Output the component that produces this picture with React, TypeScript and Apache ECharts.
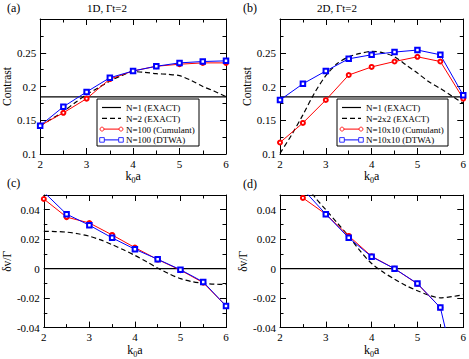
import React, { useEffect, useRef } from 'react';
import * as echarts from 'echarts';

// ---- data ----
const kx = [2, 2.5, 3, 3.5, 4, 4.5, 5, 5.5, 6];
const kFine = [2, 2.25, 2.5, 2.75, 3, 3.25, 3.5, 3.75, 4, 4.25, 4.5, 4.75, 5, 5.25, 5.5, 5.75, 6];

const singleAtom = 0.1845;

const aPair = [0.142, 0.152, 0.163, 0.176, 0.188, 0.198, 0.208, 0.216, 0.222, 0.221, 0.219, 0.218, 0.216, 0.209, 0.2, 0.193, 0.185];
const aCum = [0.142, 0.161, 0.182, 0.211, 0.223, 0.23, 0.233, 0.235, 0.235];
const aDtwa = [0.142, 0.17, 0.192, 0.213, 0.223, 0.23, 0.235, 0.237, 0.238];

const bPair = [0.101, 0.128, 0.158, 0.19, 0.216, 0.234, 0.244, 0.249, 0.252, 0.25, 0.244, 0.232, 0.22, 0.207, 0.197, 0.186, 0.175];
const bCum = [0.117, 0.146, 0.18, 0.217, 0.229, 0.237, 0.244, 0.237, 0.182];
const bDtwa = [0.18, 0.204, 0.223, 0.241, 0.247, 0.251, 0.254, 0.247, 0.187];

const cPair = [0.0253, 0.0252, 0.0248, 0.0237, 0.022, 0.0195, 0.0163, 0.0128, 0.009, 0.0048, 0.0004, -0.0035, -0.0068, -0.0088, -0.0099, -0.0105, -0.0107];
const cCum = [0.0473, 0.035, 0.031, 0.0229, 0.0143, 0.0062, -0.001, -0.0095, -0.0253];
const cDtwa = [0.052, 0.037, 0.0295, 0.0209, 0.0132, 0.0064, -0.0007, -0.009, -0.0253];

const dPair = [null, null, 0.06, 0.049, 0.04, 0.031, 0.022, 0.012, 0.0035, -0.0023, -0.0072, -0.0115, -0.015, -0.018, -0.0198, -0.019, -0.0178];
const dCum = [null, 0.048, 0.037, 0.0222, 0.0084, 0, -0.0103, -0.0264, null];
const dDtwa = [null, 0.054, 0.037, 0.0209, 0.0081, 0, -0.0101, -0.0264, -0.092];

const xTicks = { min: 2, max: 6, interval: 1 };
const contrastTicks = { min: 0.1, max: 0.3, interval: 0.05 };
const shiftTicks = { min: -0.04, max: 0.05, interval: 0.02 };

// ---- styling helpers ----
const FONT = 'Liberation Serif';
const RED = '#ff0000';
const BLUE = '#0000ff';

const pairs = (xs: number[], ys: (number | null)[]) =>
  xs.map((x, i) => [x, ys[i]]).filter((p) => p[1] !== null && p[1] !== undefined);

const grids = [
  { left: 39, top: 19, width: 187, height: 135 },
  { left: 280, top: 19, width: 185, height: 135 },
  { left: 39, top: 195, width: 187, height: 136 },
  { left: 280, top: 195, width: 185, height: 136 },
];

const kName = '{t|k}{s|0}{t|a}';
const nameRich = {
  t: { fontFamily: FONT, fontSize: 12, color: '#000' },
  s: { fontFamily: FONT, fontSize: 8, color: '#000', padding: [9, 0, 0, 0] },
};

function baseAxis(gridIndex: number, range: any, position: string, showLabel: boolean, minorSplit: number) {
  return {
    type: 'value',
    gridIndex,
    position,
    min: range.min,
    max: range.max,
    interval: range.interval,
    axisLine: { show: true, onZero: false, lineStyle: { color: '#000', width: 1 } },
    axisTick: { show: true, inside: true, length: 6, lineStyle: { color: '#000', width: 1 } },
    minorTick: { show: true, splitNumber: minorSplit, length: 3.5, lineStyle: { color: '#000', width: 1 } },
    splitLine: { show: false },
    minorSplitLine: { show: false },
    axisLabel: {
      show: showLabel,
      fontFamily: FONT,
      fontSize: 11,
      color: '#000',
      margin: 4,
      formatter: (v: number) => (v > range.max - range.interval / 2 + 1e-9 && (range.max - range.min) % range.interval > 1e-9 ? '' : String(+v.toFixed(4))),
    },
  };
}

const xAxes: any[] = [];
const yAxes: any[] = [];
[0, 1, 2, 3].forEach((g) => {
  xAxes.push({
    ...baseAxis(g, xTicks, 'bottom', true, 2),
    name: kName,
    nameLocation: 'middle',
    nameGap: 13,
    nameTextStyle: { rich: nameRich },
  });
  xAxes.push(baseAxis(g, xTicks, 'top', false, 2));
  const yr = g < 2 ? contrastTicks : shiftTicks;
  yAxes.push({
    ...baseAxis(g, yr, 'left', true, 2),
    name: g < 2 ? 'Contrast' : 'δv/Γ',
    nameLocation: 'middle',
    nameGap: g < 2 ? 23 : 25,
    nameTextStyle: { fontFamily: FONT, fontSize: 11.5, color: '#000' },
  });
  yAxes.push(baseAxis(g, yr, 'right', false, 2));
});

function refLine(g: number, v: number) {
  return {
    type: 'line',
    xAxisIndex: 2 * g,
    yAxisIndex: 2 * g,
    data: [[2, v], [6, v]],
    showSymbol: false,
    symbol: 'none',
    lineStyle: { color: '#000', width: 1.2 },
    silent: true,
  };
}
function dashed(g: number, ys: (number | null)[]) {
  return {
    type: 'line',
    xAxisIndex: 2 * g,
    yAxisIndex: 2 * g,
    data: pairs(kFine, ys),
    symbol: 'none',
    smooth: 0.3,
    lineStyle: { color: '#000', width: 1.2, type: [5, 3] },
    silent: true,
  };
}
function marked(g: number, ys: (number | null)[], color: string, symbol: string, size: number) {
  return {
    type: 'line',
    xAxisIndex: 2 * g,
    yAxisIndex: 2 * g,
    data: pairs(kx, ys),
    symbol,
    symbolSize: size,
    showAllSymbol: true,
    clip: true,
    lineStyle: { color, width: 1 },
    itemStyle: { color, borderColor: color, borderWidth: 0.8 },
    silent: true,
  };
}

const series: any[] = [
  refLine(0, singleAtom),
  dashed(0, aPair),
  marked(0, aCum, RED, 'emptyCircle', 4),
  marked(0, aDtwa, BLUE, 'emptyRect', 4.5),
  refLine(1, singleAtom),
  dashed(1, bPair),
  marked(1, bCum, RED, 'emptyCircle', 4),
  marked(1, bDtwa, BLUE, 'emptyRect', 4.5),
  refLine(2, 0),
  dashed(2, cPair),
  marked(2, cCum, RED, 'emptyCircle', 4),
  marked(2, cDtwa, BLUE, 'emptyRect', 4.5),
  refLine(3, 0),
  dashed(3, dPair),
  marked(3, dCum, RED, 'emptyCircle', 4),
  marked(3, dDtwa, BLUE, 'emptyRect', 4.5),
];

// ---- graphic texts and legends ----
function txt(text: string, x: number, y: number, size: number, align = 'left') {
  return {
    type: 'text',
    x,
    y,
    z: 100,
    style: { text, fontFamily: FONT, fontSize: size, fill: '#000', align, verticalAlign: 'middle' },
  };
}

function legend(bx: number, by: number, bw: number, bh: number, labels: string[]) {
  const els: any[] = [
    { type: 'rect', z: 100, shape: { x: bx, y: by, width: bw, height: bh }, style: { fill: '#fff', stroke: '#000', lineWidth: 1 } },
  ];
  const x0 = bx + 5;
  const x1 = bx + 24;
  const tx = bx + 29;
  labels.forEach((lab, i) => {
    const y = by + 8.5 + i * 10.8;
    const color = i < 2 ? '#000' : i === 2 ? RED : BLUE;
    els.push({
      type: 'line',
      z: 101,
      shape: { x1: x0, y1: y, x2: x1, y2: y },
      style: { stroke: color, lineWidth: i < 2 ? 1.2 : 1, lineDash: i === 1 ? [5, 3] : null },
    });
    if (i === 2) {
      [x0, x1].forEach((cx) =>
        els.push({ type: 'circle', z: 102, shape: { cx, cy: y, r: 2 }, style: { fill: '#fff', stroke: RED, lineWidth: 0.8 } })
      );
    }
    if (i === 3) {
      [x0, x1].forEach((cx) =>
        els.push({ type: 'rect', z: 102, shape: { x: cx - 2.3, y: y - 2.3, width: 4.6, height: 4.6 }, style: { fill: '#fff', stroke: BLUE, lineWidth: 0.8 } })
      );
    }
    els.push(txt(lab, tx, y + 0.5, 9));
  });
  return els;
}

const graphic: any[] = [
  txt('(a)', 7, 8, 12),
  txt('1D, Γt=2', 107, 8, 11, 'center'),
  txt('(b)', 243, 8, 12),
  txt('2D, Γt=2', 337, 8, 11, 'center'),
  txt('(c)', 7, 183, 12),
  txt('(d)', 243, 184, 12),
  ...legend(97, 99, 102, 47, ['N=1 (EXACT)', 'N=2 (EXACT)', 'N=100 (Cumulant)', 'N=100 (DTWA)']),
  ...legend(337, 99, 111, 47, ['N=1 (EXACT)', 'N=2x2 (EXACT)', 'N=10x10 (Cumulant)', 'N=10x10 (DTWA)']),
];

export default function App() {
  const ref = useRef<HTMLDivElement>(null);
  useEffect(() => {
    const chart = echarts.init(ref.current!, null, { renderer: 'svg' });
    chart.setOption({
      animation: false,
      backgroundColor: '#fff',
      textStyle: { fontFamily: FONT },
      grid: grids,
      xAxis: xAxes,
      yAxis: yAxes,
      series,
      graphic,
    });
    return () => chart.dispose();
  }, []);
  return (
    <div
      ref={ref}
      style={{ position: 'fixed', left: 0, top: 0, width: 469, height: 359, background: '#fff' }}
    />
  );
}
